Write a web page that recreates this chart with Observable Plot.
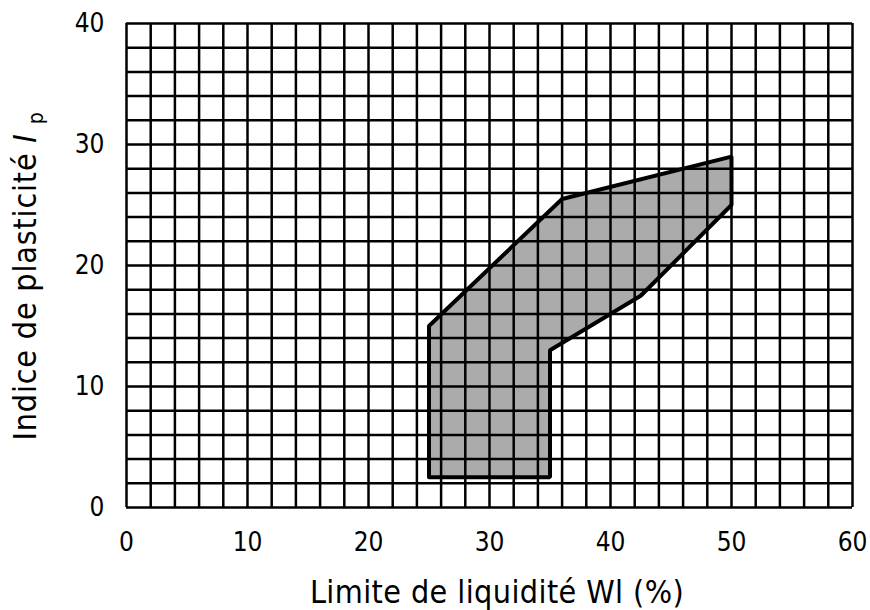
<!DOCTYPE html>
<html>
<head>
<meta charset="utf-8">
<script src="https://cdn.jsdelivr.net/npm/d3@7"></script>
<script src="https://cdn.jsdelivr.net/npm/@observablehq/plot@0.6"></script>
<style>
  html, body { margin: 0; padding: 0; background: #fff; }
  svg text { font-family: "DejaVu Sans Condensed", "DejaVu Sans", sans-serif; }
</style>
</head>
<body>
<script>
// Axis ticks
const xTicks = [0, 10, 20, 30, 40, 50, 60];
const yTicks = [0, 10, 20, 30, 40];
// Grid lines (every 2 units)
const xGrid = [0,2,4,6,8,10,12,14,16,18,20,22,24,26,28,30,32,34,36,38,40,42,44,46,48,50,52,54,56,58,60];
const yGrid = [0,2,4,6,8,10,12,14,16,18,20,22,24,26,28,30,32,34,36,38,40];
// Zone outline (Wl %, Ip)
const zoneWl = [25, 25, 36, 50, 50, 42.5, 35, 35, 25];
const zoneIp = [2.5, 15, 25.5, 29, 25, 17.5, 13, 2.5, 2.5];
// Texts
const xTitle = "Limite de liquidité Wl (%)";
const yTitleMain = "Indice de plasticité ";
const yTitleSym = "I";
const yTitleSub = "p";

const zone = zoneWl.map((wl, i) => ({wl, ip: zoneIp[i]}));

const chart = Plot.plot({
  width: 870,
  height: 610,
  marginLeft: 126,
  marginRight: 18,
  marginTop: 23,
  marginBottom: 103,
  x: {domain: [0, 60], label: null},
  y: {domain: [0, 40], label: null},
  style: {fontFamily: "DejaVu Sans Condensed", fontSize: "26px", color: "black", background: "white"},
  marks: [
    Plot.line(zone, {x: "wl", y: "ip", fill: "#ababab", stroke: "none"}),
    Plot.ruleX(xGrid, {stroke: "black", strokeWidth: 2.5}),
    Plot.ruleY(yGrid, {stroke: "black", strokeWidth: 2.5}),
    Plot.line(zone, {x: "wl", y: "ip", stroke: "black", strokeWidth: 4, strokeLinejoin: "miter"}),
    Plot.axisX({ticks: xTicks, tickSize: 0, tickPadding: 25, tickFormat: d => String(d), fontSize: 26, label: null}),
    Plot.axisY({ticks: yTicks, tickSize: 0, tickPadding: 22, tickFormat: d => String(d), fontSize: 26, label: null})
  ]
});
document.body.appendChild(chart);

const svg = d3.select(chart);
svg.append("text")
  .attr("x", 497)
  .attr("y", 603)
  .attr("text-anchor", "middle")
  .attr("fill", "black")
  .style("font-size", "32px")
  .style("letter-spacing", "0.4px")
  .text(xTitle);

const yt = svg.append("text")
  .attr("transform", "translate(36,276) rotate(-90)")
  .attr("text-anchor", "middle")
  .attr("fill", "black")
  .style("font-size", "32px")
  .style("letter-spacing", "0.8px");
yt.append("tspan").text(yTitleMain);
yt.append("tspan").attr("font-style", "italic").text(yTitleSym);
yt.append("tspan").attr("dx", 9).attr("dy", 7).style("font-size", "21px").text(yTitleSub);
</script>
</body>
</html>
